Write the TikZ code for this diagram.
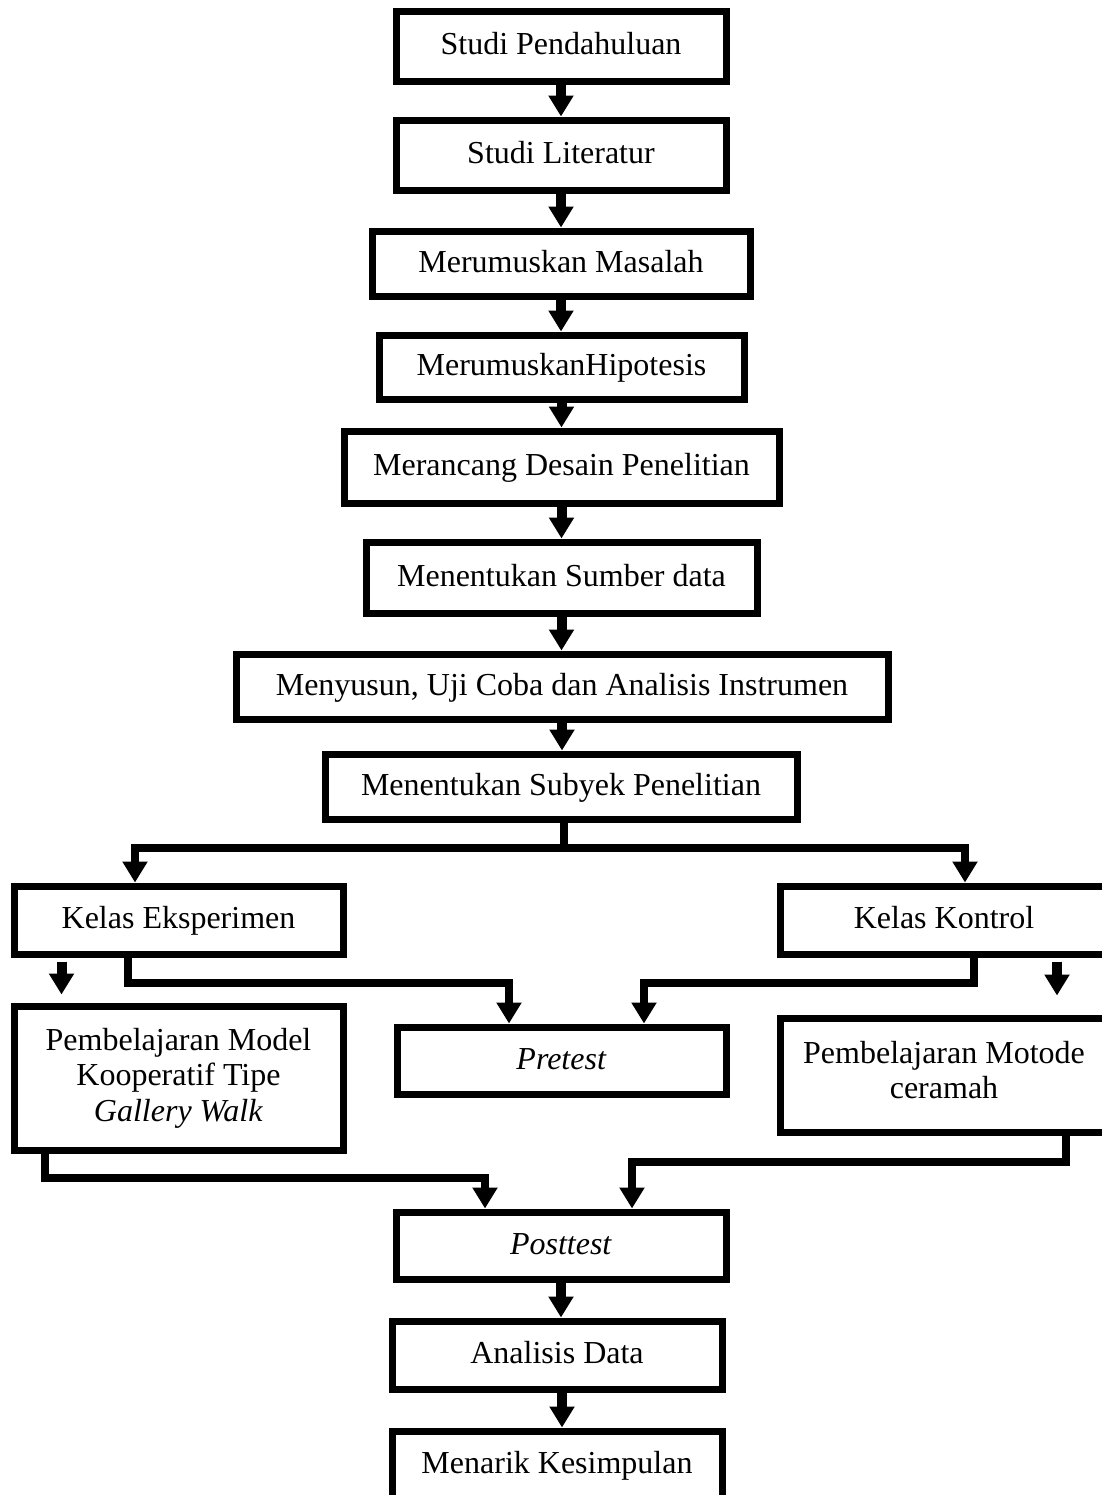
\documentclass[tikz,border=0pt]{standalone}
\usepackage{fontspec}
\setmainfont{Liberation Serif}
\usetikzlibrary{arrows.meta}
\usetikzlibrary{calc}
\usetikzlibrary{positioning}

\tikzset{
    box/.style={draw, rectangle, line width=3.5pt, align=center, inner sep=0pt,
        font=\fontsize{16}{17.8}\selectfont},
    line1/.style={box, text height=11pt, text depth=2.5pt},
    wh/.style 2 args={minimum width=#1*0.5pt, minimum height=#2*0.5pt},
    arr/.style={line width=5pt, -{Triangle[width=12pt,length=10.5pt]}},
    link/.style={line width=4pt},
    linkarr/.style={link, -{Triangle[width=12pt,length=10.5pt]}},
}

\begin{document}
\begin{tikzpicture}[x=0.5pt, y=-0.5pt]
    \clip (0,0) rectangle (1102,1495);
    \fill[white] (0,0) rectangle (1102,1495);

    \node[line1, wh={330}{70}] (pendahuluan) at (561,46) {Studi Pendahuluan};
    \node[line1, wh={330}{70}] (literatur) at (561,155) {Studi Literatur};
    \node[line1, wh={378}{65}] (masalah) at (561,263.5) {Merumuskan Masalah};
    \node[line1, wh={365}{64}] (hipotesis) at (561.5,367) {MerumuskanHipotesis};
    \node[line1, wh={435}{72}] (desain) at (561.5,467) {Merancang Desain Penelitian};
    \node[line1, wh={391}{71}] (sumber) at (561.5,577.5) {Menentukan Sumber data};
    \node[line1, wh={652}{65}] (instrumen) at (562,686.5) {Menyusun, Uji Coba dan Analisis Instrumen};
    \node[line1, wh={472}{65}] (subyek) at (561,786.5) {Menentukan Subyek Penelitian};
    \node[line1, wh={329}{68}] (eksperimen) at (178.5,920) {Kelas Eksperimen};
    \node[line1, wh={328}{68}] (kontrol) at (944,920) {Kelas Kontrol};
    \node[box, wh={329}{144}] (gallery) at (178.5,1078) {Pembelajaran Model\\Kooperatif Tipe\\\textit{Gallery Walk}};
    \node[line1, wh={329}{67}] (pretest) at (561.5,1060.5) {\textit{Pretest}};
    \node[box, wh={328}{114}, text depth=5pt] (ceramah) at (944,1075) {Pembelajaran Motode\\ceramah};
    \node[line1, wh={330}{67}] (posttest) at (561,1245.5) {\textit{Posttest}};
    \node[line1, wh={330}{68}] (analisis) at (557,1355) {Analisis Data};
    \node[line1, wh={330}{68}] (kesimpulan) at (557,1465) {Menarik Kesimpulan};

    \foreach \a/\b in {pendahuluan/literatur, literatur/masalah, masalah/hipotesis,
        hipotesis/desain, desain/sumber, sumber/instrumen, instrumen/subyek,
        posttest/analisis}
        \draw[arr] (\a.south) -- (\a.south |- \b.north);
    \draw[arr] ($(analisis.south)+(5,0)$) -- ($(kesimpulan.north)+(5,0)$);

    \coordinate (fork) at (564,848);
    \draw[link] (fork |- subyek.south) -- (fork);
    \draw[linkarr] (fork) -| ($(eksperimen.north)+(-43.5,0)$);
    \draw[linkarr] (fork) -| ($(kontrol.north)+(21,0)$);

    \draw[arr, shorten <=2pt, shorten >=4pt] ($(eksperimen.south)+(-117,0)$) -- ($(gallery.north)+(-117,0)$);
    \draw[arr, shorten <=2pt, shorten >=9.5pt] ($(kontrol.south)+(113,0)$) -- ($(ceramah.north)+(113,0)$);
    \draw[linkarr] ($(eksperimen.south)+(-51,0)$) -- ++(0,25) -| ($(pretest.north)+(-52.5,0)$);
    \draw[linkarr] ($(kontrol.south)+(30,0)$) -- ++(0,25) -| ($(pretest.north)+(82.5,0)$);

    \draw[linkarr] ($(gallery.south)+(-133.5,0)$) -- ++(0,24.5) -| ($(posttest.north)+(-76,0)$);
    \draw[linkarr] ($(ceramah.south)+(122,-6)$) -- ++(0,32.5) -| ($(posttest.north)+(71,0)$);
\end{tikzpicture}
\end{document}
